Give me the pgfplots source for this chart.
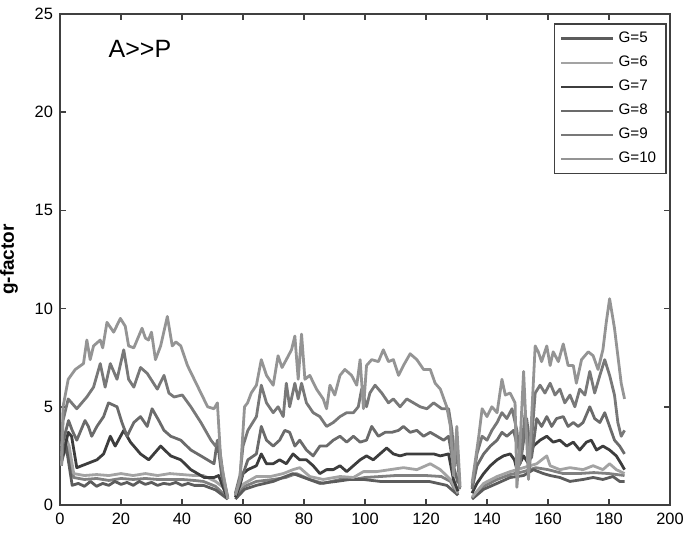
\documentclass[border=0pt]{standalone}
\usepackage{pgfplots}
\pgfplotsset{compat=1.18}
\usepackage{fontspec}
\setmainfont{Liberation Sans}
\definecolor{cG5}{gray}{0.36}
\definecolor{cG6}{gray}{0.64}
\definecolor{cG7}{gray}{0.24}
\definecolor{cG8}{gray}{0.42}
\definecolor{cG9}{gray}{0.47}
\definecolor{cG10}{gray}{0.58}
\definecolor{cX}{gray}{0.50}
\definecolor{axc}{gray}{0.25}
\begin{document}
\begin{tikzpicture}
\begin{axis}[
  scale only axis, width=305pt, height=245.5pt,
  xmin=0, xmax=200, ymin=0, ymax=25,
  xtick={0,20,...,200}, ytick={0,5,...,25},
  tick pos=both, tick align=inside, major tick length=3pt,
  axis line style={axc, line width=0.9pt},
  every tick/.style={axc, line width=0.8pt},
  tick label style={font=\fontsize{8.2}{10}\selectfont},
  xticklabel style={yshift=-0.5pt},
  /pgf/number format/assume math mode=true,
  ylabel={\textbf{g-factor}},
  every axis y label/.style={at={(rel axis cs:0,0.5)}, anchor=center, rotate=90, yshift=25.5pt, font=\fontsize{9.5}{11}\selectfont},
  unbounded coords=jump,
  every axis plot/.append style={line width=1.4pt, line join=round},
  legend style={at={(rel axis cs:1,1)}, xshift=-1.5pt, yshift=-4.5pt, anchor=north east, draw=axc, line width=0.8pt, fill=white,
    font=\fontsize{7.6}{8}\selectfont, row sep=1.2pt, inner xsep=3pt, inner ysep=2pt},
  legend cell align=left,
  legend image code/.code={\draw[#1, line width=1.1pt] (0pt,0pt) -- (26pt,0pt);},
]
% extra unlabeled line
\addplot[cX, forget plot] coordinates {
(0.5,2.8) (2,3.2) (4.5,1.4) (8,1.3) (12,1.35) (16,1.25) (20,1.35) (24,1.3) (28,1.35) (32,1.3) (36,1.3) (40,1.3) (44,1.25) (47,1.2) (51,0.95) (55,0.35) (56,nan)
(57.5,0.4) (60.5,0.95) (64.4,1.2) (69.9,1.3) (74,1.4) (77.5,1.6) (81.9,1.3) (86.3,1.1) (91.8,1.3) (96.2,1.3) (100,1.4) (105,1.45) (110,1.5) (115,1.5) (120,1.5) (125,1.45) (128,1.2) (130.5,0.5) (132,nan)
(135.1,0.35) (138.9,0.95) (143.3,1.3) (147.6,1.55) (152,1.7) (156,1.9) (160,1.8) (165,1.6) (170,1.6) (175,1.65) (180,1.6) (185.1,1.5)
};
% G=5
\addplot[cG5] coordinates {
(0.5,2.2) (2,3.0) (4,1.0) (6,1.1) (8,0.95) (10,1.2) (12,0.95) (14,1.1) (16,1.0) (18,1.2) (20,1.05) (22,1.15) (24,1.0) (26,1.2) (28,1.05) (30,1.15) (32,1.0) (34,1.1) (36,1.05) (38,1.15) (40,1.0) (42,1.1) (44,1.0) (47,1.0) (51,0.77) (55,0.3) (56,nan)
(57.5,0.3) (60.5,0.8) (64.4,1.0) (69.9,1.2) (76.4,1.6) (80.8,1.35) (85.2,1.1) (90.6,1.2) (95,1.3) (99.5,1.3) (105,1.2) (110,1.2) (115,1.2) (121,1.2) (126.8,1.0) (130.5,0.5) (132,nan)
(135.1,0.3) (138.9,0.8) (143.3,1.1) (147.6,1.4) (152,1.5) (155.2,1.8) (158.5,1.6) (160.7,1.5) (163.9,1.4) (167.2,1.2) (171.5,1.3) (174.8,1.4) (178,1.3) (181.3,1.45) (183.5,1.2) (185.1,1.2)
};
\addlegendentry{G=5}
% G=6
\addplot[cG6] coordinates {
(0.5,3.0) (1.5,3.6) (3,3.0) (4.5,1.6) (8,1.5) (12,1.55) (16,1.5) (20,1.6) (24,1.5) (28,1.6) (32,1.5) (36,1.6) (40,1.55) (44,1.5) (47,1.5) (51,1.2) (53.5,0.9) (55,0.4) (56,nan)
(57.5,0.5) (59,0.9) (60.5,1.1) (64.4,1.45) (69,1.45) (73.2,1.6) (76.4,1.8) (78.6,1.9) (81.9,1.45) (86.3,1.3) (91.8,1.45) (96.2,1.4) (99.5,1.7) (103.8,1.7) (108.2,1.8) (112.6,1.9) (117,1.8) (121.4,2.1) (124.7,1.8) (128,1.3) (130.5,0.6) (132,nan)
(135.1,0.4) (138.9,1.1) (143.3,1.45) (147.6,1.7) (152,1.9) (156.3,2.1) (159.6,2.5) (160.7,2.0) (163.9,1.8) (167.2,1.9) (171.5,1.8) (174.8,2.0) (178,1.8) (180.2,2.1) (182.4,1.8) (185.1,1.6)
};
\addlegendentry{G=6}
% G=7
\addplot[cG7] coordinates {
(0.5,2.5) (1.1,2.6) (2.7,3.7) (3.8,3.5) (5.5,1.9) (8.8,2.1) (12.1,2.3) (14.3,2.6) (16.5,3.5) (18.1,3.0) (20.9,3.8) (23.1,3.2) (26.4,2.6) (29.1,2.3) (33,3.0) (36.3,2.5) (39.6,2.3) (42.9,1.8) (47.3,1.4) (50.5,1.4) (52,1.5) (55,0.3) (56,nan)
(57.5,0.4) (59,1.0) (60,1.6) (61.6,1.8) (64.4,2.0) (66,2.6) (67.7,2.1) (69.9,2.1) (72,2.3) (74.2,2.1) (76.4,2.6) (78.6,2.3) (80.8,2.3) (83,2.0) (85.2,1.6) (87.4,1.8) (89.6,1.8) (91.8,2.0) (94,1.7) (96.2,2.0) (98.4,2.3) (100.5,2.5) (102.7,2.3) (104.9,2.6) (107.1,2.9) (109.3,2.6) (111.5,2.5) (113.7,2.6) (115.9,2.6) (118.1,2.6) (120.3,2.6) (122.5,2.6) (124.7,2.5) (127.4,2.6) (129,1.3) (130.5,0.7) (132,nan)
(135.1,0.6) (136.7,1.1) (138.9,1.6) (141.1,2.0) (143.3,2.3) (145.4,2.5) (147.6,2.6) (149,2.3) (149.8,1.8) (152,2.5) (153.6,2.1) (155.2,3.0) (157.4,3.3) (159.6,3.5) (161.7,3.2) (163.9,3.3) (166.1,3.0) (168.3,3.2) (170.4,2.8) (172.6,3.2) (174.2,3.3) (175.9,2.8) (178,3.0) (180.2,2.8) (182.4,2.5) (184,2.1) (185.1,1.8)
};
\addlegendentry{G=7}
% G=8
\addplot[cG8] coordinates {
(0.5,2.0) (1.1,3.3) (2.8,4.3) (4,3.8) (5.5,3.3) (8.2,4.3) (9.3,4.0) (10.4,3.5) (12.1,4.0) (14.3,4.5) (15.9,5.2) (18.7,5.0) (20.3,4.2) (22,3.5) (24.2,4.2) (26.4,4.5) (28.6,4.0) (30.2,4.9) (32.4,4.3) (34.1,3.8) (36.3,3.5) (39.6,3.3) (42.9,2.8) (46.2,2.5) (50.5,2.1) (51.6,3.3) (53,1.5) (55,0.35) (56,nan)
(57.5,0.5) (59,1.2) (60.5,1.8) (61.6,2.3) (64.4,2.6) (66,4.0) (67.7,3.3) (69.9,3.0) (72,3.3) (73.7,3.8) (75.3,3.7) (77,3.0) (78.6,3.3) (80.8,2.8) (83,2.5) (85.2,3.0) (87.4,3.0) (89.6,3.3) (91.8,3.5) (94,3.2) (96.2,3.5) (98.4,3.2) (100.5,3.3) (102.2,4.0) (104.4,3.5) (106.6,3.7) (108.8,3.7) (111,3.8) (112.6,4.0) (114.8,3.7) (117,3.8) (119.2,3.5) (121.4,3.7) (123.6,3.5) (125.8,3.3) (127.4,3.5) (129,2.0) (130.5,1.1) (132,nan)
(135.1,0.8) (136.7,2.0) (138.9,2.6) (141.1,3.0) (143.3,3.3) (144.9,3.7) (146.5,3.5) (148.7,3.8) (149.8,3.1) (151.4,2.6) (153,4.4) (154.6,2.4) (156.3,4.4) (157.9,4.0) (159.6,4.5) (161.2,4.0) (162.8,4.4) (165,4.5) (166.6,4.0) (168.3,4.2) (169.9,4.0) (171.5,4.2) (173.7,5.0) (175.3,4.4) (177,4.2) (178.6,4.7) (180.2,4.0) (181.8,3.3) (183.5,3.0) (185.1,2.6)
};
\addlegendentry{G=8}
% G=9
\addplot[cG9] coordinates {
(0.5,2.5) (1,4.3) (2.7,5.4) (5.5,4.9) (8.8,5.5) (11,6.0) (13.2,7.2) (14.8,6.0) (16.5,7.2) (18.7,6.4) (20.9,7.9) (22.5,6.4) (24.2,6.0) (26.4,7.0) (28.6,6.7) (31.9,5.9) (34.1,6.6) (35.7,5.7) (37.4,5.5) (40.1,5.6) (42.9,5.0) (46.2,4.2) (49.5,3.3) (51,3.0) (52,3.3) (53.5,1.5) (55,0.4) (56,nan)
(57.5,0.6) (59,1.5) (60,3.0) (61.6,3.8) (64.4,4.5) (66,6.1) (67.7,5.2) (69.9,4.7) (71.5,5.0) (73.2,4.5) (74.2,6.2) (75.3,5.0) (77,6.2) (78.1,5.4) (79.2,6.2) (80.8,5.2) (83,4.7) (85.2,4.5) (87.4,4.0) (89.6,4.2) (91.8,4.5) (94,4.7) (96.2,4.7) (97.8,5.0) (98.9,5.9) (100.5,5.0) (101.6,5.7) (103.3,6.1) (105.5,5.7) (107.7,5.2) (109.3,5.4) (111.5,5.0) (113.7,5.4) (115.9,5.2) (118.1,5.0) (120.3,4.9) (122.5,5.2) (125.2,4.9) (127.4,4.9) (128.5,3.8) (129.5,2.0) (130.1,3.5) (131,0.8) (132,nan)
(135.1,0.9) (136.7,2.6) (138.4,3.5) (140,3.3) (141.6,3.8) (143.3,4.2) (144.9,4.7) (146.5,4.4) (148.2,4.9) (149.8,3.8) (150.9,2.1) (152.5,4.7) (153.9,1.8) (155.8,5.7) (157.4,6.1) (159,5.7) (160.7,6.2) (162.3,5.6) (163.9,5.9) (165.5,5.2) (167.2,5.6) (168.8,5.0) (170.4,5.9) (172.1,5.6) (173.7,6.8) (175.3,5.7) (177,6.6) (178.6,7.4) (180.2,6.6) (181.8,5.6) (182.9,4.2) (184,3.5) (185.1,3.8)
};
\addlegendentry{G=9}
% G=10
\addplot[cG10] coordinates {
(0.5,2.0) (1,5.0) (2.7,6.4) (5,6.9) (7.7,7.2) (8.8,8.4) (9.9,7.4) (11,8.1) (13.2,8.4) (14,8.0) (15.4,9.3) (17.6,8.8) (19.8,9.5) (21.4,9.1) (22.5,8.1) (24.2,8.0) (26.9,9.0) (28,8.5) (29,8.4) (30,8.8) (31.3,7.4) (33,8.1) (35.2,9.6) (36.8,8.1) (38,8.3) (39.6,8.1) (41.8,7.1) (44,6.4) (46.2,5.7) (48.4,5.0) (50.5,4.9) (51.6,5.2) (52.7,2.3) (55,0.3) (56,nan)
(57.5,0.5) (59,1.3) (60.5,5.0) (61.5,5.2) (62.7,5.7) (64.4,6.1) (66,7.4) (67.7,6.6) (69.9,6.1) (71.5,7.6) (72.8,7.0) (74.2,7.4) (75.9,7.9) (77,8.6) (78.1,6.4) (79.2,8.7) (80.3,6.4) (81.9,6.6) (84.1,5.9) (86.3,5.4) (87.4,4.9) (88.5,6.1) (90.1,5.6) (91.8,6.6) (93.4,6.9) (95.6,6.6) (97.3,6.1) (98.4,7.4) (99.5,4.9) (100.5,7.1) (102.2,7.4) (104.4,7.3) (106,7.9) (107.7,7.3) (109.3,7.4) (111,6.6) (112.6,7.1) (114.8,7.7) (117,7.4) (119.2,6.9) (121.4,6.9) (123,6.2) (124.7,5.9) (126.8,5.0) (128,4.0) (129,1.5) (130.1,4.0) (131.2,0.9) (132,nan)
(135.1,1.1) (137.3,3.5) (138.4,4.9) (140,4.5) (141.6,5.0) (143.3,4.7) (144.9,6.4) (146,5.6) (147.6,5.7) (149.2,5.2) (149.8,0.9) (150.8,3.0) (152,6.8) (153.6,1.3) (154.7,4.7) (155.8,8.1) (156.8,7.8) (157.9,7.3) (159.6,8.1) (160.7,7.1) (161.7,7.8) (163.4,7.3) (165,8.2) (166.6,7.1) (168.3,7.1) (169.3,6.2) (171,7.4) (173.2,7.8) (174.8,7.6) (176.4,6.9) (178,7.9) (179.1,9.3) (180.2,10.5) (181.8,9.0) (182.9,7.6) (184,6.2) (185.1,5.4)
};
\addlegendentry{G=10}
\node[font=\fontsize{12.5}{14}\selectfont] at (axis cs:26.2,23.2) {A>{}>P};
\end{axis}
\pgfresetboundingbox
\path[use as bounding box] ([shift={(-30pt,-14pt)}]current axis.south west) rectangle ([shift={(7.5pt,7pt)}]current axis.north east);
\end{tikzpicture}
\end{document}
